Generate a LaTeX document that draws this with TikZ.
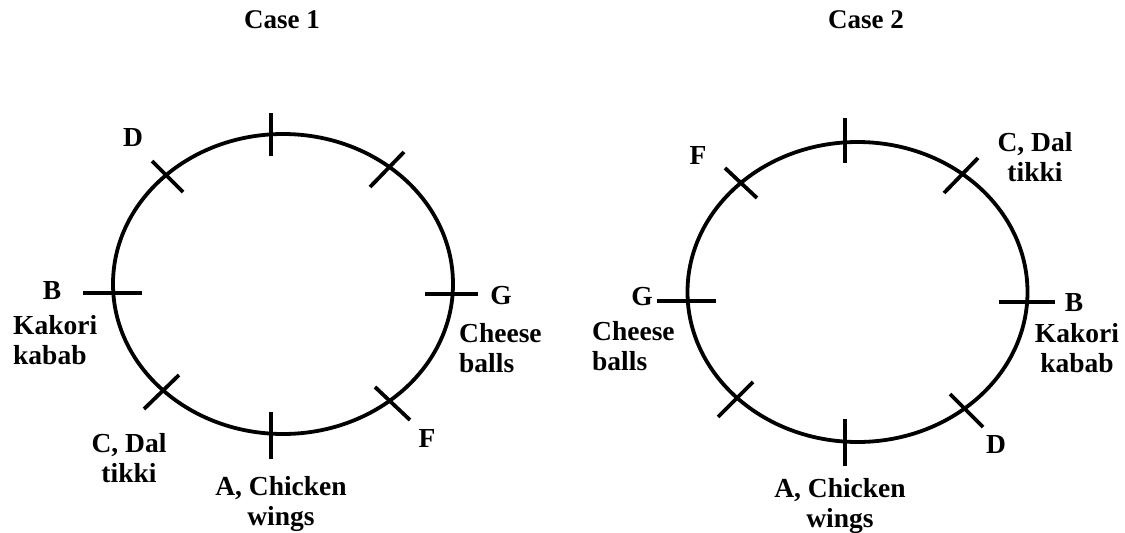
\documentclass[tikz,border=0pt]{standalone}
\usepackage{fontspec}
\setmainfont{Liberation Serif}
\begin{document}
\begin{tikzpicture}[x=1pt,y=-1pt,
  ring/.style={line width=3.8pt},
  tick/.style={line width=3.8pt},
  lbl/.style={inner sep=0pt,font=\fontsize{27.5}{30}\selectfont\bfseries},
  ttl/.style={inner sep=0pt,font=\fontsize{27}{30}\selectfont\bfseries}]
\path[use as bounding box] (0,0) rectangle (1125,533);
% ---------- Case 1 ----------
\node[ttl] (t1) at (282,20) {Case 1};
\coordinate (c1) at (283,284);
\draw[ring] (c1) ellipse [x radius=170pt, y radius=150pt];
\coordinate (a1) at (271,113); \coordinate (a2) at (271,156);
\coordinate (b1) at (271,412); \coordinate (b2) at (271,459);
\coordinate (l1) at (83,293);  \coordinate (l2) at (142,293);
\coordinate (r1) at (425,294); \coordinate (r2) at (478,294);
\coordinate (tl1) at (152,161); \coordinate (tl2) at (183,192);
\coordinate (tr1) at (370,187); \coordinate (tr2) at (404,152);
\coordinate (bl1) at (144,409); \coordinate (bl2) at (179,375);
\coordinate (br1) at (375,387); \coordinate (br2) at (410,420);
\foreach \p in {a,b,l,r,tl,tr,bl,br} \draw[tick] (\p1) -- (\p2);
\node[lbl] (d1) at (133,138) {D};
\node[lbl] (bb1) at (52,291) {B};
\node[lbl,align=left,anchor=west] (kk1) at (13,340) {Kakori\\kabab};
\node[lbl] (g1) at (501,296) {G};
\node[lbl,align=left,anchor=west] (ch1) at (459,348) {Cheese\\balls};
\node[lbl,align=center] (cd1) at (129,458) {C, Dal\\tikki};
\node[lbl] (f1) at (427,438) {F};
\node[lbl,align=center] (ac1) at (281,504) {A, Chicken\\wings};
% ---------- Case 2 ----------
\node[ttl] (t2) at (866,20) {Case 2};
\coordinate (c2) at (857.5,292);
\draw[ring] (c2) ellipse [x radius=170pt, y radius=150pt];
\coordinate (A1) at (845,118); \coordinate (A2) at (845,163);
\coordinate (B1) at (845,419); \coordinate (B2) at (845,466);
\coordinate (L1) at (657,301); \coordinate (L2) at (716,301);
\coordinate (R1) at (999,302); \coordinate (R2) at (1055,302);
\coordinate (TL1) at (725,168); \coordinate (TL2) at (757,198);
\coordinate (TR1) at (944,193); \coordinate (TR2) at (978,158);
\coordinate (BL1) at (718,417); \coordinate (BL2) at (753,382);
\coordinate (BR1) at (950,394); \coordinate (BR2) at (983,427);
\foreach \p in {A,B,L,R,TL,TR,BL,BR} \draw[tick] (\p1) -- (\p2);
\node[lbl] (f2) at (698,155) {F};
\node[lbl,align=center] (cd2) at (1035,157) {C, Dal\\tikki};
\node[lbl] (g2) at (642,297) {G};
\node[lbl,align=left,anchor=west] (ch2) at (592,346) {Cheese\\balls};
\node[lbl] (bb2) at (1074,303) {B};
\node[lbl,align=center] (kk2) at (1077,348) {Kakori\\kabab};
\node[lbl] (d2) at (996,445) {D};
\node[lbl,align=center] (ac2) at (840,506) {A, Chicken\\wings};
\end{tikzpicture}
\end{document}
